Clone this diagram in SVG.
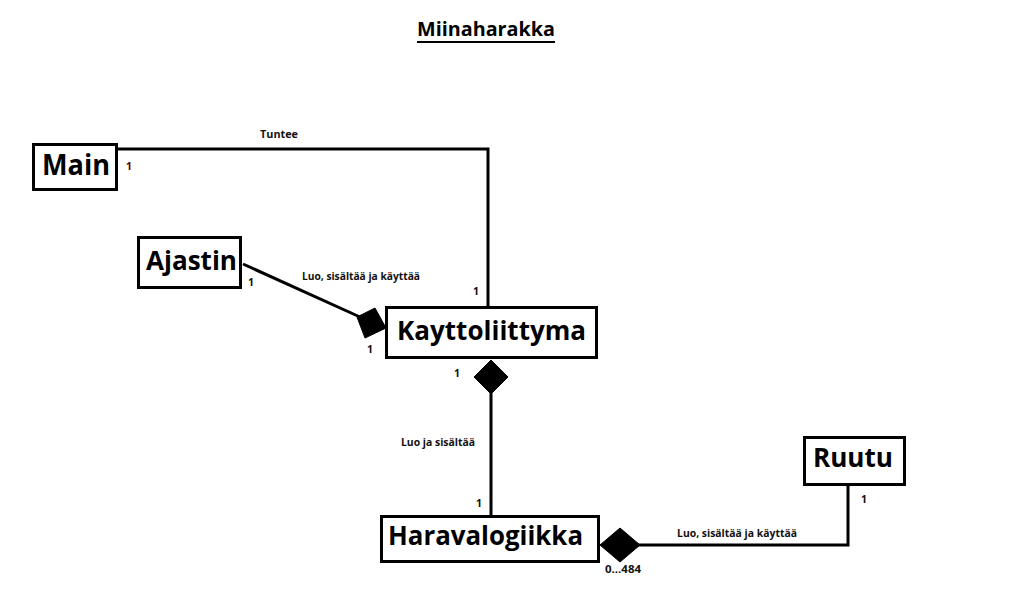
<svg xmlns="http://www.w3.org/2000/svg" width="1025" height="602" viewBox="0 0 1025 602">
<style>
.box{fill:#fff;stroke:#000;stroke-width:3}
.big{font-family:"Open Sans","Liberation Sans",sans-serif;font-weight:bold;font-size:27px;fill:#000}
.sm{font-family:"Open Sans","Liberation Sans",sans-serif;font-weight:bold;font-size:10.5px;fill:#111}
.ln{fill:none;stroke:#000;stroke-width:3}
.dia{fill:#000;stroke:#000;stroke-width:1}
</style>
<rect width="1025" height="602" fill="#fff"/>
<g id="title">
<text class="big" x="417" y="36" style="font-size:20px" textLength="138" lengthAdjust="spacingAndGlyphs">Miinaharakka</text>
<line x1="417" y1="42" x2="555" y2="42" stroke="#000" stroke-width="2"/>
</g>
<g id="connectors">
<polyline class="ln" points="118,149 488,149 488,307"/>
<line class="ln" x1="243" y1="264" x2="360" y2="317"/>
<polygon class="dia" points="386,328 375,308 357,317 365,338"/>
<line class="ln" x1="491" y1="392" x2="491" y2="516"/>
<polygon class="dia" points="491,360 508,377 491,394 474,377"/>
<polyline class="ln" points="638,545 848,545 848,485"/>
<polygon class="dia" points="600,545 620,528 640,545 620,562"/>
<text class="sm" x="260" y="138" textLength="38" lengthAdjust="spacingAndGlyphs">Tuntee</text>
<text class="sm" x="126" y="170" style="fill:#5a0000">1</text>
<text class="sm" x="302" y="280" textLength="118" lengthAdjust="spacingAndGlyphs">Luo, sisältää ja käyttää</text>
<text class="sm" x="248" y="286">1</text>
<text class="sm" x="473" y="295">1</text>
<text class="sm" x="367" y="353">1</text>
<text class="sm" x="454" y="377">1</text>
<text class="sm" x="401" y="446" textLength="74" lengthAdjust="spacingAndGlyphs">Luo ja sisältää</text>
<text class="sm" x="476" y="507">1</text>
<text class="sm" x="605" y="573" textLength="36" lengthAdjust="spacingAndGlyphs">0...484</text>
<text class="sm" x="677" y="537" textLength="120" lengthAdjust="spacingAndGlyphs">Luo, sisältää ja käyttää</text>
<text class="sm" x="861" y="503">1</text>
</g>
<g id="Main">
<rect class="box" x="33.5" y="144.5" width="83" height="45"/>
<text class="big" x="42" y="175" style="font-size:29px" textLength="68" lengthAdjust="spacingAndGlyphs">Main</text>
</g>
<g id="Ajastin">
<rect class="box" x="138.5" y="237.5" width="102" height="50"/>
<text class="big" x="146" y="270" textLength="91" lengthAdjust="spacingAndGlyphs">Ajastin</text>
</g>
<g id="Kayttoliittyma">
<rect class="box" x="386.5" y="307.5" width="210" height="50"/>
<text class="big" x="397" y="340" textLength="189" lengthAdjust="spacingAndGlyphs">Kayttoliittyma</text>
</g>
<g id="Haravalogiikka">
<rect class="box" x="381.5" y="516.5" width="217" height="45"/>
<text class="big" x="388" y="545" textLength="195" lengthAdjust="spacingAndGlyphs">Haravalogiikka</text>
</g>
<g id="Ruutu">
<rect class="box" x="804.5" y="437.5" width="100" height="47"/>
<text class="big" x="813" y="467" textLength="80" lengthAdjust="spacingAndGlyphs">Ruutu</text>
</g>
</svg>
